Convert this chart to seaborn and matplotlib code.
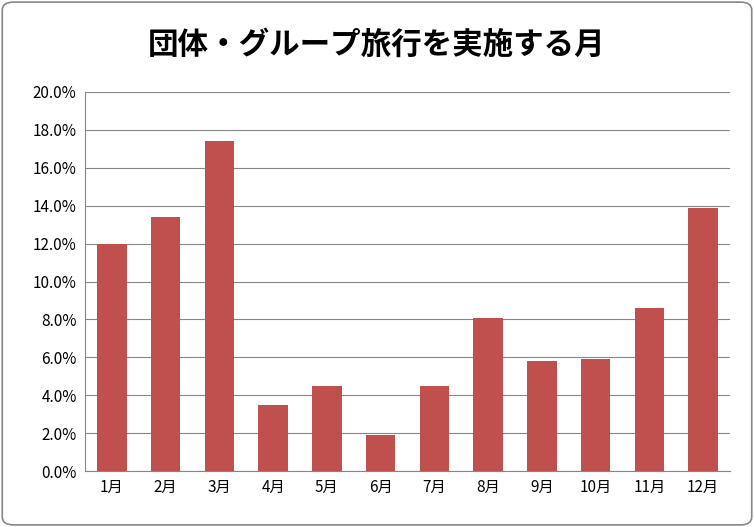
import matplotlib
matplotlib.use("Agg")
import matplotlib.pyplot as plt
import seaborn as sns
import pandas as pd
from matplotlib.patches import FancyBboxPatch
from matplotlib.ticker import FuncFormatter

months = ["1月","2月","3月","4月","5月","6月","7月","8月","9月","10月","11月","12月"]
values = [12.0, 13.4, 17.4, 3.5, 4.5, 1.9, 4.5, 8.1, 5.8, 5.9, 8.6, 13.9]
title = "団体・グループ旅行を実施する月"

plt.rcParams["font.family"] = ["Noto Sans CJK JP", "DejaVu Sans"]
df = pd.DataFrame({"month": months, "value": values})

fig = plt.figure(figsize=(7.54, 5.27), dpi=100)
ax = fig.add_axes([85/754, 1-471/527, 645/754, 379/527])
sns.barplot(data=df, x="month", y="value", color="#C0504D", saturation=1, width=0.55, ax=ax)
ax.set_ylim(0, 20)
ax.set_yticks(range(0, 21, 2))
ax.yaxis.set_major_formatter(FuncFormatter(lambda v, p: f"{v:.1f}%"))
ax.grid(axis="y", color="#878787", linewidth=0.8)
ax.set_axisbelow(True)
for s in ["top", "right"]:
    ax.spines[s].set_visible(False)
for s in ["left", "bottom"]:
    ax.spines[s].set_color("#878787")
ax.set_xlabel("")
ax.set_ylabel("")
ax.tick_params(axis="both", labelsize=11, length=0, pad=6)
fig.text(0.5, 1-45/527, title, ha="center", va="center", fontsize=22, fontweight="bold")
fig.patches.append(FancyBboxPatch((0.003, 0.004), 0.994, 0.992, boxstyle="round,pad=0,rounding_size=0.015",
                                  transform=fig.transFigure, fill=False, edgecolor="#878787", linewidth=1.2))
fig.savefig("out.png", dpi=100)
